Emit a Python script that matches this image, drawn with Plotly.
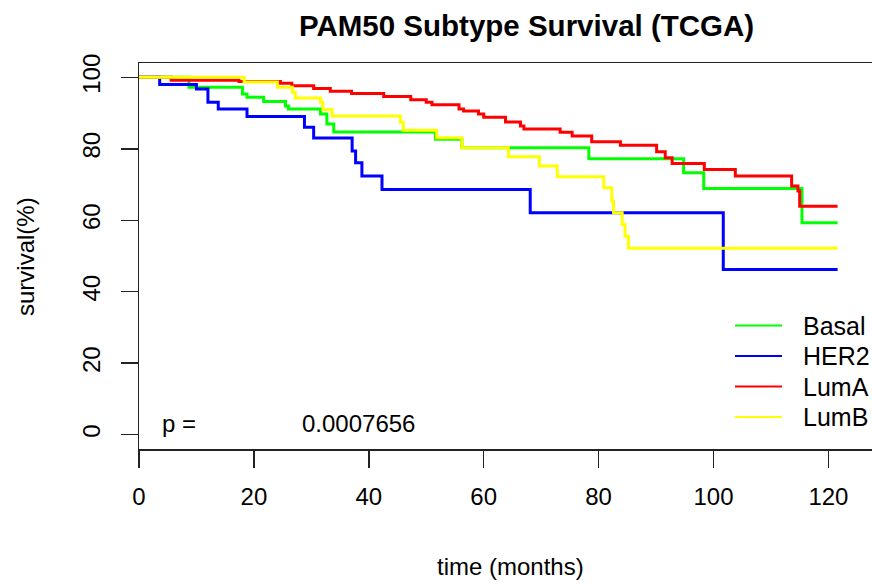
import plotly.graph_objects as go

# ---- data ----
series_names = ["Basal", "HER2", "LumA", "LumB"]
series_colors = ["#00FF00", "#0000FF", "#FF0000", "#FFFF00"]

basal_t = [0, 8.7, 18.0, 18.8, 21.7, 25.5, 26.0, 31.6, 32.7, 33.9, 51.6, 56.2, 78.3, 94.8, 98.3, 115.4, 121.6]
basal_s = [100, 97.2, 95.3, 94.4, 93.2, 92.0, 91.1, 89.7, 86.9, 84.7, 82.7, 80.3, 77.2, 73.3, 68.9, 59.3, 59.3]

her2_t = [0, 3.6, 10.0, 12.0, 13.8, 18.8, 28.8, 30.4, 37.1, 37.7, 38.8, 42.3, 68.1, 101.7, 121.6]
her2_s = [100, 98.0, 96.7, 93.0, 91.1, 89.0, 86.0, 83.0, 79.4, 76.1, 72.4, 68.6, 62.1, 46.2, 46.2]

luma_t = [0, 5.6, 17.4, 24.6, 26.6, 30.4, 33.3, 37.0, 42.6, 47.3, 50.0, 51.0, 55.7, 56.5, 59.1, 60.0,
          63.8, 66.4, 67.0, 73.3, 75.4, 78.8, 83.8, 90.1, 91.6, 92.8, 98.4, 103.8, 113.6, 114.7, 115.0, 121.6]
luma_s = [100, 99.2, 98.8, 98.3, 97.6, 96.9, 96.1, 95.5, 94.6, 93.7, 93.0, 92.3, 91.1, 90.6, 89.7, 88.8,
          87.5, 86.4, 85.5, 84.6, 83.6, 82.0, 81.0, 79.2, 77.5, 75.9, 74.2, 72.4, 69.6, 68.2, 63.9, 63.9]

lumb_t = [0, 18.3, 24.1, 26.7, 27.2, 31.6, 32.0, 33.6, 45.5, 46.0, 51.8, 56.2, 64.3, 69.7, 72.8, 80.9,
          82.3, 82.6, 84.1, 84.6, 85.2, 121.6]
lumb_s = [100, 98.7, 97.2, 95.8, 94.2, 93.0, 91.0, 89.2, 87.4, 85.2, 83.1, 80.3, 77.8, 75.2, 72.2, 69.1,
          65.3, 62.1, 58.8, 55.5, 52.2, 52.2]

x_ticks = [0, 20, 40, 60, 80, 100, 120]
y_ticks = [0, 20, 40, 60, 80, 100]
p_label = "p ="
p_value = "0.0007656"
title_text = "PAM50 Subtype Survival (TCGA)"
x_title = "time (months)"
y_title = "survival(%)"

# ---- layout geometry (pixels) ----
W, H = 872, 586
L, R, T, B = 139, 0, 63, 137
PW, PH = W - L - R, H - T - B
px_per_month = 5.745
x_max = PW / px_per_month

def px2x(px):
    return (px - L) / PW

def py2y(py):
    return (H - B - py) / PH

FONT = "Liberation Sans, Arial, Helvetica, sans-serif"

fig = go.Figure()
all_t = [basal_t, her2_t, luma_t, lumb_t]
all_s = [basal_s, her2_s, luma_s, lumb_s]
for name, col, t, s in zip(series_names, series_colors, all_t, all_s):
    fig.add_trace(go.Scatter(x=t, y=s, mode="lines", name=name,
                             line=dict(color=col, width=3, shape="hv"),
                             showlegend=False, hoverinfo="skip"))

annotations = []
shapes = []
# custom legend (R style)
leg_rows = [325.5, 356.0, 386.5, 417.0]
for name, col, ry in zip(series_names, series_colors, leg_rows):
    shapes.append(dict(type="line", xref="paper", yref="paper",
                       x0=px2x(735), x1=px2x(782), y0=py2y(ry), y1=py2y(ry),
                       line=dict(color=col, width=2)))
    annotations.append(dict(text=name, xref="paper", yref="paper",
                            x=px2x(801), y=py2y(ry), xanchor="left", yanchor="middle",
                            showarrow=False, font=dict(size=25, color="black", family=FONT)))

annotations.append(dict(text=p_label, xref="paper", yref="paper", x=px2x(160), y=py2y(423.5),
                        xanchor="left", yanchor="middle", showarrow=False,
                        font=dict(size=24, color="black", family=FONT)))
annotations.append(dict(text=p_value, xref="paper", yref="paper", x=px2x(300), y=py2y(423.5),
                        xanchor="left", yanchor="middle", showarrow=False,
                        font=dict(size=24, color="black", family=FONT)))
annotations.append(dict(text="<b>" + title_text + "</b>", xref="paper", yref="paper",
                        x=px2x(526), y=py2y(25), xanchor="center", yanchor="middle",
                        showarrow=False, font=dict(size=29.5, color="black", family=FONT)))
annotations.append(dict(text=x_title, xref="paper", yref="paper",
                        x=px2x(510), y=py2y(566), xanchor="center", yanchor="middle",
                        showarrow=False, font=dict(size=24, color="black", family=FONT)))
annotations.append(dict(text=y_title, xref="paper", yref="paper", textangle=-90,
                        x=px2x(25), y=py2y(257), xanchor="center", yanchor="middle",
                        showarrow=False, font=dict(size=24, color="black", family=FONT)))

fig.update_layout(
    width=W, height=H,
    margin=dict(l=L, r=R, t=T, b=B, pad=0),
    paper_bgcolor="white", plot_bgcolor="white",
    font=dict(family=FONT, size=24, color="black"),
    annotations=annotations, shapes=shapes,
    showlegend=False,
)
fig.update_xaxes(range=[0, x_max], tickvals=x_ticks, ticktext=[str(v) for v in x_ticks],
                 showgrid=False, zeroline=False, showline=True, linecolor="#222",
                 linewidth=1.5, mirror=True, ticks="outside", ticklen=17, tickwidth=1.5,
                 tickcolor="#222", ticklabelstandoff=9,
                 tickfont=dict(size=24, color="black", family=FONT))
fig.update_yaxes(range=[-4, 104], tickvals=y_ticks, ticktext=[str(v) for v in y_ticks],
                 showgrid=False, zeroline=False, showline=True, linecolor="#222",
                 linewidth=1.5, mirror=False, ticks="outside", ticklen=17, tickwidth=1.5,
                 tickcolor="#222", tickangle=-90, ticklabelstandoff=11,
                 tickfont=dict(size=24, color="black", family=FONT))

fig.write_html(
    "out.html",
    config={"displayModeBar": False, "staticPlot": True},
    post_script="document.body.style.margin='0';document.body.style.overflow='hidden';",
)
